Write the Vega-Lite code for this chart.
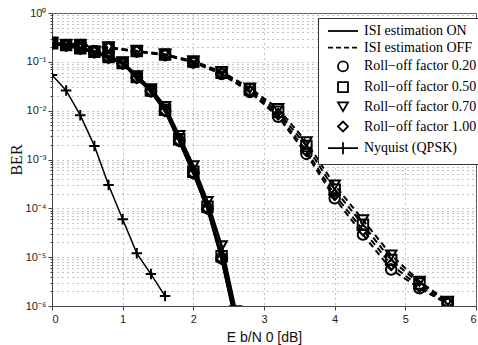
{
  "$schema": "https://vega.github.io/schema/vega-lite/v6.json",
  "width": 424,
  "height": 293,
  "autosize": {"type": "none"},
  "padding": {"left": 52, "top": 13, "right": 2, "bottom": 39},
  "background": "white",
  "config": {
    "view": {"stroke": "#555", "strokeWidth": 1},
    "axis": {
      "domainColor": "#444",
      "tickColor": "#444",
      "labelColor": "#222",
      "labelFont": "Liberation Sans",
      "labelFontSize": 11,
      "titleFontWeight": "normal",
      "titleColor": "#111",
      "gridColor": "#888",
      "gridDash": [1, 4],
      "gridWidth": 1,
      "labelOverlap": false
    }
  },
  "datasets": {
    "ber": [
      {"isi": "ON", "s": "Roll−off factor 0.20", "x": 0, "ber": 0.238},
      {"isi": "ON", "s": "Roll−off factor 0.20", "x": 0.2, "ber": 0.218},
      {"isi": "ON", "s": "Roll−off factor 0.20", "x": 0.4, "ber": 0.188},
      {"isi": "ON", "s": "Roll−off factor 0.20", "x": 0.6, "ber": 0.158},
      {"isi": "ON", "s": "Roll−off factor 0.20", "x": 0.8, "ber": 0.123},
      {"isi": "ON", "s": "Roll−off factor 0.20", "x": 1.0, "ber": 0.093},
      {"isi": "ON", "s": "Roll−off factor 0.20", "x": 1.2, "ber": 0.048},
      {"isi": "ON", "s": "Roll−off factor 0.20", "x": 1.4, "ber": 0.025},
      {"isi": "ON", "s": "Roll−off factor 0.20", "x": 1.6, "ber": 0.0100},
      {"isi": "ON", "s": "Roll−off factor 0.20", "x": 1.8, "ber": 0.0024},
      {"isi": "ON", "s": "Roll−off factor 0.20", "x": 2.0, "ber": 0.00053},
      {"isi": "ON", "s": "Roll−off factor 0.20", "x": 2.2, "ber": 0.000100},
      {"isi": "ON", "s": "Roll−off factor 0.20", "x": 2.4, "ber": 0.0000095},
      {"isi": "ON", "s": "Roll−off factor 0.20", "x": 2.6, "ber": 0.00000048},
      {"isi": "ON", "s": "Roll−off factor 0.50", "x": 0, "ber": 0.24},
      {"isi": "ON", "s": "Roll−off factor 0.50", "x": 0.2, "ber": 0.22},
      {"isi": "ON", "s": "Roll−off factor 0.50", "x": 0.4, "ber": 0.19},
      {"isi": "ON", "s": "Roll−off factor 0.50", "x": 0.6, "ber": 0.16},
      {"isi": "ON", "s": "Roll−off factor 0.50", "x": 0.8, "ber": 0.125},
      {"isi": "ON", "s": "Roll−off factor 0.50", "x": 1.0, "ber": 0.095},
      {"isi": "ON", "s": "Roll−off factor 0.50", "x": 1.2, "ber": 0.049},
      {"isi": "ON", "s": "Roll−off factor 0.50", "x": 1.4, "ber": 0.026},
      {"isi": "ON", "s": "Roll−off factor 0.50", "x": 1.6, "ber": 0.0104},
      {"isi": "ON", "s": "Roll−off factor 0.50", "x": 1.8, "ber": 0.0026},
      {"isi": "ON", "s": "Roll−off factor 0.50", "x": 2.0, "ber": 0.00056},
      {"isi": "ON", "s": "Roll−off factor 0.50", "x": 2.2, "ber": 0.000108},
      {"isi": "ON", "s": "Roll−off factor 0.50", "x": 2.4, "ber": 0.0000105},
      {"isi": "ON", "s": "Roll−off factor 0.50", "x": 2.6, "ber": 0.00000052},
      {"isi": "ON", "s": "Roll−off factor 0.70", "x": 0, "ber": 0.245},
      {"isi": "ON", "s": "Roll−off factor 0.70", "x": 0.2, "ber": 0.225},
      {"isi": "ON", "s": "Roll−off factor 0.70", "x": 0.4, "ber": 0.195},
      {"isi": "ON", "s": "Roll−off factor 0.70", "x": 0.6, "ber": 0.165},
      {"isi": "ON", "s": "Roll−off factor 0.70", "x": 0.8, "ber": 0.13},
      {"isi": "ON", "s": "Roll−off factor 0.70", "x": 1.0, "ber": 0.1},
      {"isi": "ON", "s": "Roll−off factor 0.70", "x": 1.2, "ber": 0.052},
      {"isi": "ON", "s": "Roll−off factor 0.70", "x": 1.4, "ber": 0.028},
      {"isi": "ON", "s": "Roll−off factor 0.70", "x": 1.6, "ber": 0.0122},
      {"isi": "ON", "s": "Roll−off factor 0.70", "x": 1.8, "ber": 0.0031},
      {"isi": "ON", "s": "Roll−off factor 0.70", "x": 2.0, "ber": 0.00074},
      {"isi": "ON", "s": "Roll−off factor 0.70", "x": 2.2, "ber": 0.000138},
      {"isi": "ON", "s": "Roll−off factor 0.70", "x": 2.4, "ber": 0.000017},
      {"isi": "ON", "s": "Roll−off factor 0.70", "x": 2.6, "ber": 0.0000008},
      {"isi": "ON", "s": "Roll−off factor 1.00", "x": 0, "ber": 0.236},
      {"isi": "ON", "s": "Roll−off factor 1.00", "x": 0.2, "ber": 0.216},
      {"isi": "ON", "s": "Roll−off factor 1.00", "x": 0.4, "ber": 0.186},
      {"isi": "ON", "s": "Roll−off factor 1.00", "x": 0.6, "ber": 0.157},
      {"isi": "ON", "s": "Roll−off factor 1.00", "x": 0.8, "ber": 0.122},
      {"isi": "ON", "s": "Roll−off factor 1.00", "x": 1.0, "ber": 0.092},
      {"isi": "ON", "s": "Roll−off factor 1.00", "x": 1.2, "ber": 0.047},
      {"isi": "ON", "s": "Roll−off factor 1.00", "x": 1.4, "ber": 0.025},
      {"isi": "ON", "s": "Roll−off factor 1.00", "x": 1.6, "ber": 0.0099},
      {"isi": "ON", "s": "Roll−off factor 1.00", "x": 1.8, "ber": 0.0024},
      {"isi": "ON", "s": "Roll−off factor 1.00", "x": 2.0, "ber": 0.00052},
      {"isi": "ON", "s": "Roll−off factor 1.00", "x": 2.2, "ber": 0.000098},
      {"isi": "ON", "s": "Roll−off factor 1.00", "x": 2.4, "ber": 0.0000092},
      {"isi": "ON", "s": "Roll−off factor 1.00", "x": 2.6, "ber": 0.00000046},
      {"isi": "OFF", "s": "Roll−off factor 0.70", "x": 0, "ber": 0.248},
      {"isi": "OFF", "s": "Roll−off factor 0.70", "x": 0.4, "ber": 0.223},
      {"isi": "OFF", "s": "Roll−off factor 0.70", "x": 0.8, "ber": 0.198},
      {"isi": "OFF", "s": "Roll−off factor 0.70", "x": 1.2, "ber": 0.168},
      {"isi": "OFF", "s": "Roll−off factor 0.70", "x": 1.6, "ber": 0.143},
      {"isi": "OFF", "s": "Roll−off factor 0.70", "x": 2.0, "ber": 0.104},
      {"isi": "OFF", "s": "Roll−off factor 0.70", "x": 2.4, "ber": 0.063},
      {"isi": "OFF", "s": "Roll−off factor 0.70", "x": 2.8, "ber": 0.029},
      {"isi": "OFF", "s": "Roll−off factor 0.70", "x": 3.2, "ber": 0.011},
      {"isi": "OFF", "s": "Roll−off factor 0.70", "x": 3.6, "ber": 0.0023},
      {"isi": "OFF", "s": "Roll−off factor 0.70", "x": 4.0, "ber": 0.00030},
      {"isi": "OFF", "s": "Roll−off factor 0.70", "x": 4.4, "ber": 0.000058},
      {"isi": "OFF", "s": "Roll−off factor 0.70", "x": 4.8, "ber": 0.000011},
      {"isi": "OFF", "s": "Roll−off factor 0.70", "x": 5.2, "ber": 0.0000032},
      {"isi": "OFF", "s": "Roll−off factor 0.70", "x": 5.6, "ber": 0.00000125},
      {"isi": "OFF", "s": "Roll−off factor 0.50", "x": 0, "ber": 0.246},
      {"isi": "OFF", "s": "Roll−off factor 0.50", "x": 0.4, "ber": 0.221},
      {"isi": "OFF", "s": "Roll−off factor 0.50", "x": 0.8, "ber": 0.196},
      {"isi": "OFF", "s": "Roll−off factor 0.50", "x": 1.2, "ber": 0.166},
      {"isi": "OFF", "s": "Roll−off factor 0.50", "x": 1.6, "ber": 0.141},
      {"isi": "OFF", "s": "Roll−off factor 0.50", "x": 2.0, "ber": 0.101},
      {"isi": "OFF", "s": "Roll−off factor 0.50", "x": 2.4, "ber": 0.060},
      {"isi": "OFF", "s": "Roll−off factor 0.50", "x": 2.8, "ber": 0.027},
      {"isi": "OFF", "s": "Roll−off factor 0.50", "x": 3.2, "ber": 0.0095},
      {"isi": "OFF", "s": "Roll−off factor 0.50", "x": 3.6, "ber": 0.0019},
      {"isi": "OFF", "s": "Roll−off factor 0.50", "x": 4.0, "ber": 0.00024},
      {"isi": "OFF", "s": "Roll−off factor 0.50", "x": 4.4, "ber": 0.000046},
      {"isi": "OFF", "s": "Roll−off factor 0.50", "x": 4.8, "ber": 0.0000088},
      {"isi": "OFF", "s": "Roll−off factor 0.50", "x": 5.2, "ber": 0.0000029},
      {"isi": "OFF", "s": "Roll−off factor 0.50", "x": 5.6, "ber": 0.0000012},
      {"isi": "OFF", "s": "Roll−off factor 1.00", "x": 0, "ber": 0.244},
      {"isi": "OFF", "s": "Roll−off factor 1.00", "x": 0.4, "ber": 0.219},
      {"isi": "OFF", "s": "Roll−off factor 1.00", "x": 0.8, "ber": 0.194},
      {"isi": "OFF", "s": "Roll−off factor 1.00", "x": 1.2, "ber": 0.164},
      {"isi": "OFF", "s": "Roll−off factor 1.00", "x": 1.6, "ber": 0.139},
      {"isi": "OFF", "s": "Roll−off factor 1.00", "x": 2.0, "ber": 0.099},
      {"isi": "OFF", "s": "Roll−off factor 1.00", "x": 2.4, "ber": 0.058},
      {"isi": "OFF", "s": "Roll−off factor 1.00", "x": 2.8, "ber": 0.025},
      {"isi": "OFF", "s": "Roll−off factor 1.00", "x": 3.2, "ber": 0.0084},
      {"isi": "OFF", "s": "Roll−off factor 1.00", "x": 3.6, "ber": 0.0015},
      {"isi": "OFF", "s": "Roll−off factor 1.00", "x": 4.0, "ber": 0.00019},
      {"isi": "OFF", "s": "Roll−off factor 1.00", "x": 4.4, "ber": 0.000036},
      {"isi": "OFF", "s": "Roll−off factor 1.00", "x": 4.8, "ber": 0.0000070},
      {"isi": "OFF", "s": "Roll−off factor 1.00", "x": 5.2, "ber": 0.0000025},
      {"isi": "OFF", "s": "Roll−off factor 1.00", "x": 5.6, "ber": 0.00000115},
      {"isi": "OFF", "s": "Roll−off factor 0.20", "x": 0, "ber": 0.242},
      {"isi": "OFF", "s": "Roll−off factor 0.20", "x": 0.4, "ber": 0.217},
      {"isi": "OFF", "s": "Roll−off factor 0.20", "x": 0.8, "ber": 0.192},
      {"isi": "OFF", "s": "Roll−off factor 0.20", "x": 1.2, "ber": 0.162},
      {"isi": "OFF", "s": "Roll−off factor 0.20", "x": 1.6, "ber": 0.137},
      {"isi": "OFF", "s": "Roll−off factor 0.20", "x": 2.0, "ber": 0.097},
      {"isi": "OFF", "s": "Roll−off factor 0.20", "x": 2.4, "ber": 0.056},
      {"isi": "OFF", "s": "Roll−off factor 0.20", "x": 2.8, "ber": 0.024},
      {"isi": "OFF", "s": "Roll−off factor 0.20", "x": 3.2, "ber": 0.0075},
      {"isi": "OFF", "s": "Roll−off factor 0.20", "x": 3.6, "ber": 0.0013},
      {"isi": "OFF", "s": "Roll−off factor 0.20", "x": 4.0, "ber": 0.00016},
      {"isi": "OFF", "s": "Roll−off factor 0.20", "x": 4.4, "ber": 0.000029},
      {"isi": "OFF", "s": "Roll−off factor 0.20", "x": 4.8, "ber": 0.0000056},
      {"isi": "OFF", "s": "Roll−off factor 0.20", "x": 5.2, "ber": 0.0000023},
      {"isi": "OFF", "s": "Roll−off factor 0.20", "x": 5.6, "ber": 0.0000011},
      {"isi": "Nyquist", "s": "Nyquist (QPSK)", "x": 0, "ber": 0.054},
      {"isi": "Nyquist", "s": "Nyquist (QPSK)", "x": 0.2, "ber": 0.026},
      {"isi": "Nyquist", "s": "Nyquist (QPSK)", "x": 0.4, "ber": 0.0081},
      {"isi": "Nyquist", "s": "Nyquist (QPSK)", "x": 0.6, "ber": 0.0019},
      {"isi": "Nyquist", "s": "Nyquist (QPSK)", "x": 0.8, "ber": 0.00030},
      {"isi": "Nyquist", "s": "Nyquist (QPSK)", "x": 1.0, "ber": 0.000060},
      {"isi": "Nyquist", "s": "Nyquist (QPSK)", "x": 1.2, "ber": 0.000012},
      {"isi": "Nyquist", "s": "Nyquist (QPSK)", "x": 1.4, "ber": 0.0000045},
      {"isi": "Nyquist", "s": "Nyquist (QPSK)", "x": 1.6, "ber": 0.0000016}
    ]
  },
  "data": {"name": "ber"},
  "encoding": {
    "x": {
      "field": "x",
      "type": "quantitative",
      "scale": {"domain": [0, 6], "nice": false, "zero": false},
      "axis": {
        "values": [0, 1, 2, 3, 4, 5, 6],
        "title": "E b/N 0 [dB]",
        "titleFont": "Liberation Sans",
        "titleFontSize": 14,
        "titlePadding": 6,
        "tickSize": 4,
        "labelPadding": 3,
        "grid": true
      }
    },
    "y": {
      "field": "ber",
      "type": "quantitative",
      "scale": {"type": "log", "domain": [0.000001, 1], "nice": false},
      "axis": {
        "values": [0.000001, 0.000002, 0.000003, 0.000004, 0.000005, 0.000006, 0.000007, 0.000008, 0.000009,
                   0.00001, 0.00002, 0.00003, 0.00004, 0.00005, 0.00006, 0.00007, 0.00008, 0.00009,
                   0.0001, 0.0002, 0.0003, 0.0004, 0.0005, 0.0006, 0.0007, 0.0008, 0.0009,
                   0.001, 0.002, 0.003, 0.004, 0.005, 0.006, 0.007, 0.008, 0.009,
                   0.01, 0.02, 0.03, 0.04, 0.05, 0.06, 0.07, 0.08, 0.09,
                   0.1, 0.2, 0.3, 0.4, 0.5, 0.6, 0.7, 0.8, 0.9, 1],
        "labelExpr": "abs(log(datum.value)/LN10 - round(log(datum.value)/LN10)) < 0.000001 ? ['10⁰','10⁻¹','10⁻²','10⁻³','10⁻⁴','10⁻⁵','10⁻⁶'][round(-log(datum.value)/LN10)] : ''",
        "tickSize": {"condition": {"test": "abs(log(datum.value)/LN10 - round(log(datum.value)/LN10)) < 0.000001", "value": 4}, "value": 2},
        "labelPadding": 2,
        "title": "BER",
        "titleFont": "Liberation Serif",
        "titleFontSize": 16,
        "titleX": -28,
        "grid": true
      }
    }
  },
  "layer": [
    {
      "transform": [{"filter": "datum.isi === 'ON'"}],
      "mark": {"type": "line", "color": "black", "strokeWidth": 2.6, "clip": true},
      "encoding": {"detail": {"field": "s"}}
    },
    {
      "transform": [{"filter": "datum.isi === 'OFF'"}],
      "mark": {"type": "line", "color": "black", "strokeWidth": 2, "strokeDash": [6, 4], "clip": true},
      "encoding": {"detail": {"field": "s"}}
    },
    {
      "transform": [{"filter": "datum.isi === 'Nyquist'"}],
      "mark": {"type": "line", "color": "black", "strokeWidth": 1.5, "clip": true},
      "encoding": {"detail": {"field": "s"}}
    },
    {
      "mark": {"type": "point", "filled": false, "color": "black", "strokeWidth": 2, "size": 110, "opacity": 1, "clip": true},
      "encoding": {
        "shape": {
          "field": "s",
          "type": "nominal",
          "scale": {
            "domain": ["Roll−off factor 0.20", "Roll−off factor 0.50", "Roll−off factor 0.70", "Roll−off factor 1.00", "Nyquist (QPSK)"],
            "range": ["circle", "square", "triangle-down", "diamond", "M-1,0L1,0M0,-1L0,1"]
          },
          "legend": null
        }
      }
    },
    {
      "transform": [{"filter": "datum.isi === 'Nyquist'"}],
      "mark": {"type": "point", "filled": false, "color": "black", "opacity": 0},
      "encoding": {
        "shape": {
          "field": "s",
          "type": "nominal",
          "scale": {
            "domain": ["ISI estimation ON", "ISI estimation OFF", "Roll−off factor 0.20", "Roll−off factor 0.50", "Roll−off factor 0.70", "Roll−off factor 1.00", "Nyquist (QPSK)"],
            "range": ["M-3,0L3,0", "M-3,0L-2,0M-1.4,0L-0.4,0M0.2,0L1.2,0M1.8,0L2.8,0", "circle", "square", "triangle-down", "diamond", "M-3,0L3,0M0,-1.2L0,1.2"]
          },
          "legend": {
            "title": null,
            "orient": "none",
            "legendX": 266,
            "legendY": 5,
            "padding": 6,
            "strokeColor": "#333",
            "fillColor": "white",
            "symbolSize": 100,
            "symbolOffset": 12,
            "symbolOpacity": 1,
            "symbolFillColor": "transparent",
            "symbolStrokeColor": "black",
            "symbolStrokeWidth": 1.8,
            "labelFont": "Liberation Serif",
            "labelFontSize": 14,
            "labelColor": "black",
            "labelOffset": 14,
            "rowPadding": 2.7,
            "labelLimit": 200,
            "encode": {
              "symbols": {
                "update": {
                  "strokeWidth": {"signal": "datum.value === 'ISI estimation ON' || datum.value === 'ISI estimation OFF' ? 2.6 : 1.8"},
                  "opacity": {"value": 1},
                  "fill": {"value": "transparent"},
                  "stroke": {"value": "black"}
                }
              }
            }
          }
        }
      }
    }
  ],
  "resolve": {"scale": {"shape": "independent"}}
}
